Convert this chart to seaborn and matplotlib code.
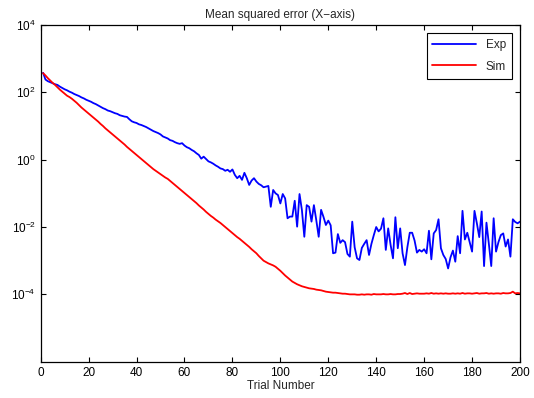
import numpy as np
import pandas as pd
import matplotlib
matplotlib.use("Agg")
import matplotlib.pyplot as plt
import seaborn as sns
from matplotlib.ticker import LogFormatterMathtext, NullLocator

# valeurs (log10 de l'erreur quadratique moyenne), essais 1..200
exp_log = [
    2.58, 2.38, 2.33, 2.30, 2.27, 2.24, 2.22, 2.17, 2.13, 2.09,
    2.06, 2.02, 1.99, 1.95, 1.92, 1.89, 1.85, 1.82, 1.78, 1.75,
    1.72, 1.68, 1.65, 1.61, 1.57, 1.53, 1.50, 1.46, 1.44, 1.41,
    1.38, 1.36, 1.32, 1.30, 1.28, 1.27, 1.20, 1.14, 1.11, 1.09,
    1.05, 1.03, 1.00, 0.97, 0.93, 0.89, 0.85, 0.82, 0.79, 0.75,
    0.69, 0.66, 0.63, 0.58, 0.56, 0.52, 0.49, 0.47, 0.49, 0.42,
    0.37, 0.34, 0.29, 0.25, 0.19, 0.14, 0.03, 0.09, 0.02, -0.05,
    -0.08, -0.12, -0.17, -0.21, -0.26, -0.28, -0.33, -0.30, -0.36, -0.29,
    -0.45, -0.55, -0.48, -0.60, -0.39, -0.55, -0.75, -0.62, -0.55, -0.65,
    -0.72, -0.76, -0.82, -0.80, -0.78, -1.40, -0.90, -1.00, -1.05, -1.30,
    -1.02, -1.15, -1.74, -1.69, -1.69, -1.22, -1.99, -1.02, -1.50, -2.29,
    -1.35, -1.40, -1.84, -1.35, -1.80, -2.29, -1.49, -1.70, -1.94, -1.81,
    -1.95, -2.78, -2.76, -2.21, -2.47, -2.39, -2.45, -2.80, -2.88, -1.84,
    -2.60, -2.93, -2.98, -2.62, -2.50, -2.39, -2.83, -2.50, -2.24, -2.00,
    -2.13, -2.05, -1.74, -2.68, -2.04, -2.53, -2.93, -1.71, -2.63, -2.04,
    -2.78, -3.13, -2.60, -2.17, -2.17, -2.40, -2.76, -2.68, -2.73, -2.66,
    -2.78, -2.11, -2.96, -2.19, -2.09, -1.77, -2.63, -2.83, -2.95, -3.23,
    -2.90, -2.70, -3.03, -2.27, -2.78, -1.52, -2.37, -2.17, -2.45, -2.73,
    -1.52, -1.89, -2.30, -1.54, -3.16, -1.87, -2.50, -3.16, -1.74, -2.73,
    -2.45, -2.24, -2.19, -2.58, -2.37, -2.88, -1.77, -1.85, -1.89, -1.84,
]

sim_log = [
    2.57, 2.50, 2.42, 2.35, 2.28, 2.22, 2.15, 2.08, 2.02, 1.96,
    1.90, 1.86, 1.81, 1.75, 1.69, 1.62, 1.55, 1.49, 1.43, 1.37,
    1.31, 1.25, 1.19, 1.13, 1.06, 1.00, 0.93, 0.87, 0.81, 0.75,
    0.69, 0.63, 0.57, 0.51, 0.45, 0.38, 0.32, 0.26, 0.20, 0.14,
    0.08, 0.02, -0.04, -0.10, -0.16, -0.22, -0.28, -0.33, -0.38, -0.43,
    -0.48, -0.53, -0.57, -0.63, -0.69, -0.75, -0.81, -0.87, -0.93, -0.99,
    -1.05, -1.11, -1.17, -1.23, -1.29, -1.36, -1.42, -1.48, -1.55, -1.61,
    -1.67, -1.72, -1.78, -1.83, -1.88, -1.94, -2.00, -2.06, -2.12, -2.18,
    -2.24, -2.30, -2.35, -2.41, -2.47, -2.53, -2.59, -2.66, -2.72, -2.78,
    -2.86, -2.93, -3.00, -3.04, -3.08, -3.11, -3.14, -3.18, -3.24, -3.30,
    -3.37, -3.44, -3.50, -3.56, -3.62, -3.66, -3.70, -3.73, -3.76, -3.78,
    -3.80, -3.82, -3.83, -3.84, -3.86, -3.87, -3.88, -3.90, -3.92, -3.93,
    -3.94, -3.95, -3.95, -3.96, -3.97, -3.98, -3.98, -3.99, -4.00, -4.00,
    -4.00, -4.01, -4.01, -4.00, -4.01, -4.00, -4.00, -4.01, -3.99, -4.00,
    -4.00, -4.00, -3.99, -4.00, -4.00, -3.99, -4.00, -4.00, -3.99, -3.99,
    -3.98, -3.96, -3.99, -3.96, -3.99, -3.98, -3.97, -3.98, -3.98, -3.98,
    -3.97, -3.98, -3.96, -3.98, -3.97, -3.98, -3.97, -3.98, -3.97, -3.98,
    -3.98, -3.97, -3.98, -3.97, -3.98, -3.96, -3.98, -3.97, -3.97, -3.98,
    -3.97, -3.96, -3.98, -3.97, -3.97, -3.96, -3.98, -3.97, -3.98, -3.97,
    -3.97, -3.98, -3.96, -3.97, -3.97, -3.96, -3.92, -3.97, -3.96, -3.97,
]

trials = np.arange(1, len(exp_log) + 1)
x_ticks = list(range(0, 201, 20))
y_ticks = [1e-4, 1e-2, 1e0, 1e2, 1e4]

df = pd.concat([
    pd.DataFrame({'trial': trials, 'mse': 10.0 ** np.array(exp_log), 'serie': 'Exp'}),
    pd.DataFrame({'trial': trials, 'mse': 10.0 ** np.array(sim_log), 'serie': 'Sim'}),
])

sns.set_style('ticks')
plt.rcParams['font.family'] = ['Liberation Sans', 'DejaVu Sans']
plt.rcParams['mathtext.fontset'] = 'custom'
plt.rcParams['mathtext.rm'] = 'Liberation Sans'
plt.rcParams['mathtext.it'] = 'Liberation Sans'

fig = plt.figure(figsize=(5.34, 3.98), dpi=100)
ax = fig.add_axes([0.0762, 0.0912, 0.8976, 0.846])

sns.lineplot(data=df, x='trial', y='mse', hue='serie',
             palette={'Exp': '#0000ff', 'Sim': '#ff0000'}, linewidth=1.3, ax=ax)

ax.set_yscale('log')
ax.set_xlim(0, 200)
ax.set_ylim(1e-6, 1e4)
ax.set_xticks(x_ticks)
ax.set_yticks(y_ticks)
ax.yaxis.set_major_formatter(LogFormatterMathtext())
ax.yaxis.set_minor_locator(NullLocator())

for s in ax.spines.values():
    s.set_visible(True)
    s.set_color('black')
    s.set_linewidth(0.9)
ax.tick_params(direction='in', length=3.5, width=0.8, top=True, right=True,
               labelsize=8.5, colors='black')

ax.set_title('Mean squared error (X\u2212axis)', fontsize=8.5, pad=5)
ax.set_xlabel('Trial Number', fontsize=8.5, labelpad=1)
ax.set_ylabel('')

leg = ax.legend(loc='upper right', fontsize=8.5, fancybox=False, framealpha=1,
                edgecolor='black', handlelength=3.7, labelspacing=0.8,
                borderaxespad=0.7, borderpad=0.5)
leg.get_frame().set_linewidth(0.8)

plt.savefig('out.png', dpi=100)
